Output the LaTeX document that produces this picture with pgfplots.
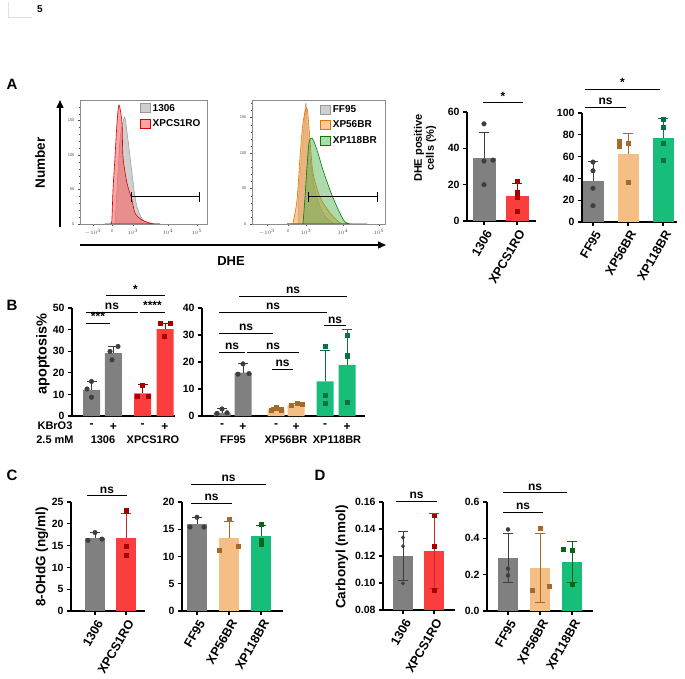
\documentclass[border=0pt]{standalone}
\usepackage{pgfplots}
\pgfplotsset{compat=1.18}
\usetikzlibrary{arrows.meta}
\usepackage{fontspec}
\setmainfont{Liberation Sans}
\definecolor{cgray}{RGB}{128,128,128}
\definecolor{cgrayd}{RGB}{62,62,62}
\definecolor{cred}{RGB}{250,62,62}
\definecolor{credd}{RGB}{165,0,0}
\definecolor{credm}{RGB}{200,40,40}
\definecolor{corange}{RGB}{244,190,132}
\definecolor{corangd}{RGB}{164,106,44}
\definecolor{cgreen}{RGB}{22,190,122}
\definecolor{cgreend}{RGB}{12,112,66}
\definecolor{cgreenk}{RGB}{10,100,30}
\newcommand\fs[1]{\fontsize{#1}{#1}\selectfont}
\pgfplotsset{
 barax/.style={scale only axis, clip=false, enlargelimits=false,
   axis x line*=bottom, axis y line*=left, axis line style={line width=1.1pt},
   tick style={line width=1.1pt, black}, major tick length=4pt, tick align=outside,
   /pgf/number format/assume math mode=true,
   y tick label style={font=\bfseries\fs{10.5}},
   x tick label style={font=\bfseries\fs{12}, anchor=north, inner sep=3.5pt},
   scaled y ticks=false, minor tick num=0},
 rotlab/.style={x tick label style={font=\bfseries\fs{12.5}, rotate=60, anchor=north east, inner sep=2.5pt}},
 histax/.style={scale only axis, enlargelimits=false,
   axis line style={black!45, line width=0.4pt}, tick style={black!70, line width=0.3pt},
   tick align=outside, major tick length=2pt, minor tick length=1.2pt, tick pos=left,
   tick label style={font=\fs{4}, black!70},
   /pgf/number format/assume math mode=true,
   legend style={draw=none, fill=none, font=\bfseries\fs{10}, inner sep=0pt, row sep=3pt, anchor=north west},
   legend cell align=left,
   legend image code/.code={\draw[##1, line width=0.8pt] (0pt,-4.5pt) rectangle (10pt,4.5pt);}},
 barst/.style={ybar, bar width=#1, bar shift=0pt, draw=none},
 dots/.style={only marks, mark=*, mark size=2.3pt, color=#1, forget plot},
 sqs/.style={only marks, mark=square*, mark size=2.1pt, color=#1, forget plot},
 sigline/.style={black, line width=1pt, forget plot, mark=none},
}
\newcommand\eb[4]{\addplot[#1, line width=0.9pt, mark=-, mark size=5pt, mark indices={2}, mark options={line width=0.9pt}, forget plot] coordinates {(#2,#3)(#2,#4)};}
\newcommand\ebb[4]{\addplot[#1, line width=0.9pt, mark=-, mark size=5pt, mark options={line width=0.9pt}, forget plot] coordinates {(#2,#3)(#2,#4)};}
\tikzset{sigt/.style={font=\bfseries\fs{12}, anchor=south, inner sep=1.5pt, yshift=1pt}}
\begin{document}
\begin{tikzpicture}[x=1pt,y=1pt]
\draw[black!12, line width=0.6pt] (8,676) -- (8,661) -- (32,661);
\node[font=\bfseries\fs{10}] at (40,669) {5};
\node[font=\bfseries\fs{15}] at (12,594) {A};
\node[font=\bfseries\fs{15}] at (12,373) {B};
\node[font=\bfseries\fs{15}] at (12,203) {C};
\node[font=\bfseries\fs{15}] at (320,203) {D};
% ===== A histograms =====
\draw[-{Triangle[length=8pt,width=7pt]}, line width=1.4pt] (60,451) -- (60,578);
\node[rotate=90, font=\bfseries\fs{13.5}] at (40,515) {Number};
\draw[-{Triangle[length=8pt,width=7pt]}, line width=1.4pt] (80,433) -- (386,433);
\node[font=\bfseries\fs{13}] at (231,417) {DHE};
\begin{scope}[shift={(80,454)}]
\begin{axis}[histax, width=127pt, height=124pt, xmin=0, xmax=127, ymin=0, ymax=124,
  xtick={13,32,53,88,117}, xticklabels={$-10^3$,0,$10^3$,$10^4$,$10^5$},
  minor xtick={16,19,22,25,28,30,35,38,41,44,47,50,63,70,75,78,81,84,86,98,105,109,112,114,116},
  ytick={0,34.5,69,103.5}, yticklabels={0,50,100,150}, minor ytick={7,14,21,28,41,48,55,62,76,83,90,97,110,117},
  legend style={at={(0.47,0.985)}}]
\addplot[fill=black!22, fill opacity=0.85, draw=black!40, line width=0.5pt, smooth] coordinates {(30,0)(34,0)(35,2)(37,34)(40,84)(43,102)(45,106)(48,84)(52,51)(55,27)(58,14)(63,4)(70,0)(80,0)} \closedcycle;
\addplot[fill=red!65, fill opacity=0.55, draw=red!85!black, line width=0.6pt, smooth] coordinates {(25,0)(31,0)(32,7)(33,34)(35,67)(37,101)(39,119)(42,101)(43,67)(47,41)(52,24)(55,11)(62,4)(70,1)(75,0)(80,0)} \closedcycle;
\legend{1306,XPCS1RO}
\addplot[sigline] coordinates {(51,27)(119,27)};
\addplot[sigline] coordinates {(51,22)(51,32)};
\addplot[sigline] coordinates {(119,22)(119,32)};
\end{axis}
\end{scope}
\begin{scope}[shift={(252,454)}]
\begin{axis}[histax, width=133pt, height=124pt, xmin=0, xmax=133, ymin=0, ymax=124,
  xtick={15,36,54,91,127}, xticklabels={$-10^3$,0,$10^3$,$10^4$,$10^5$},
  minor xtick={18,21,24,27,30,33,38,41,44,47,50,52,65,72,77,81,84,86,88,90,101,108,113,117,120,123,125},
  ytick={0,36,71,107}, yticklabels={0,50,100,150}, minor ytick={7,14,21,28,43,50,57,64,78,85,92,99,114,121},
  legend style={at={(0.51,0.975)}}]
\addplot[fill=black!22, fill opacity=0.85, draw=black!40, line width=0.5pt, smooth] coordinates {(35,0)(45,0)(46,1)(47,34)(51,84)(53,114)(54,120)(55,101)(58,67)(63,34)(71,11)(81,1)(85,0)(95,0)} \closedcycle;
\addplot[fill=orange!75, fill opacity=0.55, draw=orange!90!black, line width=0.6pt, smooth] coordinates {(35,0)(40,0)(41,1)(45,24)(48,67)(51,101)(55,116)(58,84)(61,51)(68,27)(78,11)(88,1)(93,0)(100,0)} \closedcycle;
\addplot[fill=green!55!black!70, fill opacity=0.45, draw=green!50!black, line width=0.6pt, smooth] coordinates {(35,0)(50,0)(51,1)(53,27)(55,57)(57,81)(60,86)(65,74)(71,54)(78,34)(85,17)(93,2)(101,0)(115,0)} \closedcycle;
\legend{FF95,XP56BR,XP118BR}
\addplot[sigline] coordinates {(56,27)(125,27)};
\addplot[sigline] coordinates {(56,22)(56,32)};
\addplot[sigline] coordinates {(125,22)(125,32)};
\end{axis}
\end{scope}
% ===== A bars =====
\node[rotate=90, font=\bfseries\fs{11}, align=center] at (425,530) {DHE positive\\[1pt]cells (\%)};
\begin{scope}[shift={(467,457)}]
\begin{axis}[barax, rotlab, width=69pt, height=109pt, xmin=0, xmax=69, ymin=0, ymax=60,
  ytick={0,20,40,60}, xtick={17,50}, xticklabels={1306,XPCS1RO}]
\addplot[barst=23, fill=cgray] coordinates {(17,34.9)};
\addplot[barst=23, fill=cred] coordinates {(50,13.8)};
\eb{cgrayd}{17}{34.9}{49.0}
\eb{credd}{50}{13.8}{20.9}
\addplot[dots=cgrayd] coordinates {(17,53.5)(17,33)(26,33.5)(17,20)};
\addplot[sqs=credd] coordinates {(50,22)(50,16)(50,13)(50,5.5)};
\addplot[sigline] coordinates {(16,65)(56,65)};
\end{axis}
\end{scope}
\node[sigt] at (503,575) {*};
\begin{scope}[shift={(582,456)}]
\begin{axis}[barax, rotlab, width=95pt, height=109pt, xmin=0, xmax=95, ymin=0, ymax=100,
  ytick={0,20,40,60,80,100}, xtick={11,46,81}, xticklabels={FF95,XP56BR,XP118BR}]
\addplot[barst=21, fill=cgray] coordinates {(11,37.9)};
\addplot[barst=21, fill=corange] coordinates {(46,62.7)};
\addplot[barst=21, fill=cgreen] coordinates {(81,77)};
\eb{cgrayd}{11}{37.9}{55.9}
\eb{corangd}{46}{62.7}{81}
\eb{cgreend}{81}{77}{94.8}
\addplot[dots=cgrayd] coordinates {(11,55)(11,47)(11,31)(11,15)};
\addplot[sqs=corangd] coordinates {(37,74)(37,69.4)(46,72.5)(46,36.4)};
\addplot[sqs=cgreend] coordinates {(81,94.5)(81,87)(81,72)(81,57)};
\addplot[sigline] coordinates {(3,105.5)(44,105.5)};
\addplot[sigline] coordinates {(3,122)(78,122)};
\end{axis}
\end{scope}
\node[sigt] at (605.5,571) {ns};
\node[sigt] at (622.5,589) {*};
% ===== B =====
\node[rotate=90, font=\bfseries\fs{14.5}] at (43,324) {apoptosis\%};
\begin{scope}[shift={(72,262)}]
\begin{axis}[barax, width=103pt, height=108pt, xmin=0, xmax=103, ymin=0, ymax=50,
  ytick={0,10,20,30,40,50}, xtick={19.5,41.3,70.5,93}, xticklabels={-,+,-,+}, xtick style={draw=none}]
\addplot[barst=17, fill=cgray] coordinates {(19.5,12.1)(41.3,29.1)};
\addplot[barst=17, fill=cred] coordinates {(70.5,10.5)(93,40.2)};
\eb{cgrayd}{19.5}{12.1}{16}
\eb{cgrayd}{41.3}{29.1}{32.2}
\eb{credd}{70.5}{10.5}{14.4}
\eb{credd}{93}{40.2}{43}
\addplot[dots=cgrayd] coordinates {(19.5,16)(19.5,8.7)(15,12.5)(46,32.2)(38,29.9)(40,26)};
\addplot[sqs=credd] coordinates {(70.5,14.4)(65,9.3)(76,9.3)(88,43)(98,43)(92,37)};
\addplot[sigline] coordinates {(14,43)(38,43)};
\addplot[sigline] coordinates {(14,48.1)(66,48.1)};
\addplot[sigline] coordinates {(68,48.1)(93,48.1)};
\addplot[sigline] coordinates {(34,55.6)(93,55.6)};
\end{axis}
\end{scope}
\node[sigt] at (98,355) {***};
\node[sigt] at (112,366) {ns};
\node[sigt] at (152.5,366) {****};
\node[sigt] at (135.5,382) {*};
\begin{scope}[shift={(202,262)}]
\begin{axis}[barax, width=163pt, height=108pt, xmin=0, xmax=163, ymin=0, ymax=40,
  ytick={0,10,20,30,40}, xtick={20,41,74,94,123,145}, xticklabels={-,+,-,+,-,+}, xtick style={draw=none}]
\addplot[barst=17, fill=cgray] coordinates {(20,1.2)(41,16.1)};
\addplot[barst=17, fill=corange] coordinates {(74,2.5)(94,4.1)};
\addplot[barst=17, fill=cgreen] coordinates {(123,12.8)(145,18.9)};
\eb{cgrayd}{20}{1.2}{2.8}
\eb{cgrayd}{41}{16.1}{19.6}
\eb{corangd}{74}{2.5}{3.1}
\eb{corangd}{94}{4.1}{4.7}
\eb{cgreend}{123}{12.8}{24.3}
\eb{cgreend}{145}{18.9}{31.9}
\addplot[dots=cgrayd] coordinates {(15,1.0)(25,1.2)(20,2.6)(41,19.3)(36,15.5)(47,15.7)};
\addplot[sqs=corangd] coordinates {(69,2.2)(74,3.1)(79,2.3)(89,4.0)(95,4.7)(100,4.3)};
\addplot[sqs=cgreend] coordinates {(123,26)(123,7.8)(123,4.7)(145,30)(145,22.3)(145,5)};
\addplot[sigline] coordinates {(37,44.4)(145,44.4)};
\addplot[sigline] coordinates {(17,38.5)(125,38.5)};
\addplot[sigline] coordinates {(17,30.7)(71,30.7)};
\addplot[sigline] coordinates {(122,33.5)(144,33.5)};
\addplot[sigline] coordinates {(17,23.7)(43,23.7)};
\addplot[sigline] coordinates {(45,23.7)(97,23.7)};
\addplot[sigline] coordinates {(70,17.4)(91,17.4)};
\end{axis}
\end{scope}
\node[sigt] at (293,382) {ns};
\node[sigt] at (273,366) {ns};
\node[sigt] at (246,345) {ns};
\node[sigt] at (335,352) {ns};
\node[sigt] at (232,326) {ns};
\node[sigt] at (273,326) {ns};
\node[sigt] at (282.5,309) {ns};
\node[font=\bfseries\fs{11}] at (55,252) {KBrO3};
\node[font=\bfseries\fs{11}] at (55,238) {2.5 mM};
\node[font=\bfseries\fs{11}] at (103,238) {1306};
\node[font=\bfseries\fs{11}] at (153,238) {XPCS1RO};
\node[font=\bfseries\fs{11}] at (233,238) {FF95};
\node[font=\bfseries\fs{11}] at (286,238) {XP56BR};
\node[font=\bfseries\fs{11}] at (337,238) {XP118BR};
% ===== C =====
\node[rotate=90, font=\bfseries\fs{13.5}] at (42,121) {8-OHdG (ng/ml)};
\begin{scope}[shift={(71,67)}]
\begin{axis}[barax, rotlab, width=74pt, height=109pt, xmin=0, xmax=74, ymin=0, ymax=25,
  ytick={0,5,10,15,20,25}, xtick={24,55}, xticklabels={1306,XPCS1RO}]
\addplot[barst=20, fill=cgray] coordinates {(24,16.8)};
\addplot[barst=20, fill=cred] coordinates {(55,16.8)};
\eb{cgrayd}{24}{16.8}{18}
\eb{credm}{55}{16.8}{22.3}
\addplot[dots=cgrayd] coordinates {(17,16.2)(24,18)(31,16.5)};
\addplot[sqs=credd] coordinates {(55,23)(55,14.9)(55,12.8)};
\addplot[sigline] coordinates {(16,26.4)(56,26.4)};
\end{axis}
\end{scope}
\node[sigt] at (107,182) {ns};
\begin{scope}[shift={(182,67)}]
\begin{axis}[barax, rotlab, width=101pt, height=109pt, xmin=0, xmax=101, ymin=0, ymax=20,
  ytick={0,5,10,15,20}, xtick={15,47,79}, xticklabels={FF95,XP56BR,XP118BR}]
\addplot[barst=20, fill=cgray] coordinates {(15,15.9)};
\addplot[barst=20, fill=corange] coordinates {(47,13.4)};
\addplot[barst=20, fill=cgreen] coordinates {(79,13.8)};
\eb{cgrayd}{15}{15.9}{17.2}
\eb{corangd}{47}{13.4}{16.4}
\eb{cgreenk}{79}{13.8}{15.7}
\addplot[dots=cgrayd] coordinates {(8,15.4)(15,17.2)(22,15.4)};
\addplot[sqs=corangd] coordinates {(47,16.9)(37,11.2)(56,11.9)};
\addplot[sqs=cgreenk] coordinates {(79,16)(79,13)(79,12.3)};
\addplot[sigline] coordinates {(9,23.3)(84,23.3)};
\addplot[sigline] coordinates {(9,19.8)(50,19.8)};
\end{axis}
\end{scope}
\node[sigt] at (228.5,194) {ns};
\node[sigt] at (211.5,175) {ns};
% ===== D =====
\node[rotate=90, font=\bfseries\fs{13.5}] at (342,121) {Carbonyl (nmol)};
\begin{scope}[shift={(383,68)}]
\begin{axis}[barax, rotlab, width=72pt, height=108pt, xmin=0, xmax=72, ymin=0.08, ymax=0.16,
  clip=true,
  ytick={0.08,0.10,0.12,0.14,0.16}, yticklabel style={/pgf/number format/.cd, fixed, fixed zerofill, precision=2},
  xtick={20,51}, xticklabels={1306,XPCS1RO}]
\addplot[barst=20, fill=cgray] coordinates {(20,0.120)};
\addplot[barst=20, fill=cred] coordinates {(51,0.1236)};
\ebb{cgrayd}{20}{0.1017}{0.1383}
\ebb{credm}{51}{0.0958}{0.1514}
\addplot[dots=cgrayd, mark size=1.8pt] coordinates {(20,0.1337)(20,0.1273)(20,0.0997)};
\addplot[sqs=credd, mark size=1.7pt] coordinates {(51,0.1497)(51,0.1273)(51,0.0948)};
\end{axis}
\end{scope}
\draw[line width=1pt] (396,177) -- (437,177);
\node[sigt] at (416.5,177) {ns};
\begin{scope}[shift={(487,67)}]
\begin{axis}[barax, rotlab, width=106pt, height=109pt, xmin=0, xmax=106, ymin=0, ymax=0.6,
  ytick={0,0.2,0.4,0.6}, yticklabel style={/pgf/number format/.cd, fixed, fixed zerofill, precision=1},
  xtick={21,53,85}, xticklabels={FF95,XP56BR,XP118BR}]
\addplot[barst=20, fill=cgray] coordinates {(21,0.292)};
\addplot[barst=20, fill=corange] coordinates {(53,0.237)};
\addplot[barst=20, fill=cgreen] coordinates {(85,0.270)};
\ebb{cgrayd}{21}{0.155}{0.429}
\ebb{corangd}{53}{0.045}{0.429}
\ebb{cgreenk}{85}{0.158}{0.382}
\addplot[dots=cgrayd, mark size=2pt] coordinates {(21,0.449)(21,0.233)(21,0.196)};
\addplot[sqs=corangd, mark size=2pt] coordinates {(53,0.457)(45,0.114)(62,0.138)};
\addplot[sqs=cgreenk, mark size=2pt] coordinates {(76,0.339)(85,0.334)(85,0.150)};
\addplot[sigline] coordinates {(16,0.650)(80,0.650)};
\addplot[sigline] coordinates {(16,0.545)(56,0.545)};
\end{axis}
\end{scope}
\node[sigt] at (535,185) {ns};
\node[sigt] at (523,166) {ns};
\pgfresetboundingbox
\path[use as bounding box] (0,0) rectangle (685,678);
\end{tikzpicture}
\end{document}
